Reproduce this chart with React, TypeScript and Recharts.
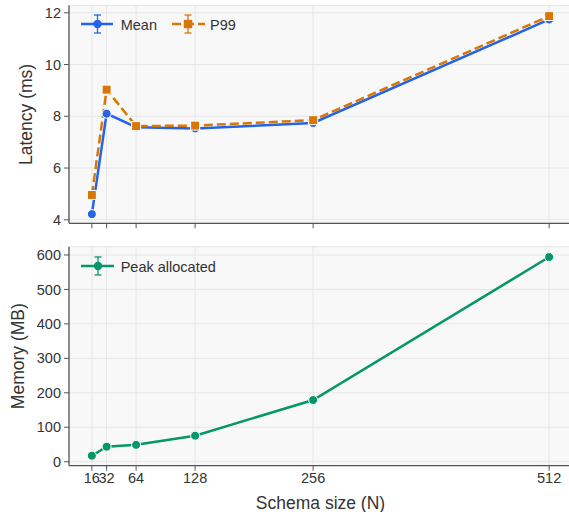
import React from 'react';
import { LineChart, Line, XAxis, YAxis, CartesianGrid, Legend, Label } from 'recharts';

const schemaSizes = [16, 32, 64, 128, 256, 512];
const meanLatency = [4.22, 8.1, 7.58, 7.53, 7.74, 11.74];
const p99Latency = [4.96, 9.03, 7.62, 7.64, 7.85, 11.87];
const peakMemory = [17.4, 43.5, 49, 75.5, 179, 594];
const latencyTicks = [4, 6, 8, 10, 12];
const memoryTicks = [0, 100, 200, 300, 400, 500, 600];

const BLUE = '#2563eb';
const ORANGE = '#d97706';
const GREEN = '#059669';
const FONT = '"Liberation Sans", Arial, sans-serif';
const TEXT = '#333333';
const SPINE = '#555555';

const latencyData = schemaSizes.map((n, i) => ({ n, mean: meanLatency[i], p99: p99Latency[i] }));
const memoryData = schemaSizes.map((n, i) => ({ n, peak: peakMemory[i] }));

const X_DOMAIN: [number, number] = [-8.8, 536.8];

const CircleDot = (color: string) => (props: any) => {
  const { cx, cy, index } = props;
  if (cx == null || cy == null) return <g key={index} />;
  return <circle key={index} cx={cx} cy={cy} r={4.5} fill={color} stroke="#ffffff" strokeWidth={1} />;
};

const SquareDot = (color: string) => (props: any) => {
  const { cx, cy, index } = props;
  if (cx == null || cy == null) return <g key={index} />;
  return <rect key={index} x={cx - 4.5} y={cy - 4.5} width={9} height={9} fill={color} stroke="#ffffff" strokeWidth={1} />;
};

const ErrIcon = ({ x1, x2, mx, color, dash, square }: any) => (
  <g>
    <line x1={x1} x2={x2} y1={11} y2={11} stroke={color} strokeWidth={2.5} strokeDasharray={dash} />
    <line x1={mx} x2={mx} y1={2} y2={20} stroke={color} strokeWidth={1.3} />
    <line x1={mx - 3.5} x2={mx + 3.5} y1={2} y2={2} stroke={color} strokeWidth={1.3} />
    <line x1={mx - 3.5} x2={mx + 3.5} y1={20} y2={20} stroke={color} strokeWidth={1.3} />
    {square ? (
      <rect x={mx - 4.2} y={11 - 4.2} width={8.4} height={8.4} fill={color} />
    ) : (
      <circle cx={mx} cy={11} r={4.2} fill={color} />
    )}
  </g>
);

const LatencyLegend = () => (
  <svg width={170} height={24} style={{ display: 'block', overflow: 'visible' }}>
    <ErrIcon x1={3} x2={35} mx={19.5} color={BLUE} />
    <text x={42.7} y={16.5} fontSize={14.5} fontFamily={FONT} fill={TEXT}>Mean</text>
    <ErrIcon x1={94} x2={127} mx={110} color={ORANGE} dash="9 4" square />
    <text x={132} y={16.5} fontSize={14.5} fontFamily={FONT} fill={TEXT}>P99</text>
  </svg>
);

const MemoryLegend = () => (
  <svg width={170} height={24} style={{ display: 'block', overflow: 'visible' }}>
    <ErrIcon x1={3} x2={36} mx={20} color={GREEN} />
    <text x={42.7} y={16.5} fontSize={14.5} fontFamily={FONT} fill={TEXT}>Peak allocated</text>
  </svg>
);

const tickStyle = { fontSize: 14.5, fontFamily: FONT, fill: TEXT };

export default function App() {
  return (
    <div style={{ position: 'absolute', left: 0, top: 0, width: 569, height: 512, overflow: 'hidden', background: '#ffffff' }}>
      <LineChart width={572} height={240} data={latencyData} margin={{ top: 5.5, right: 0, left: 0, bottom: 0 }}>
        <CartesianGrid stroke="#e6e6e6" strokeWidth={1} fill="#f8f8f8" fillOpacity={1} />
        <XAxis
          dataKey="n"
          type="number"
          domain={X_DOMAIN}
          ticks={schemaSizes}
          interval={0}
          allowDataOverflow
          height={16.7}
          tickFormatter={() => ''}
          tickSize={5}
          axisLine={{ stroke: SPINE, strokeWidth: 1.3 }}
          tickLine={{ stroke: SPINE, strokeWidth: 1 }}
        />
        <YAxis
          type="number"
          domain={[3.865, 12.28]}
          ticks={latencyTicks}
          allowDataOverflow
          width={69}
          tickSize={5}
          tickMargin={3}
          tick={tickStyle}
          axisLine={{ stroke: SPINE, strokeWidth: 1.3 }}
          tickLine={{ stroke: SPINE, strokeWidth: 1 }}
        >
          <Label value="Latency (ms)" angle={-90} position="center" dx={-8.5} style={{ fontSize: 17.5, fontFamily: FONT, fill: TEXT }} />
        </YAxis>
        <Legend
          layout="vertical"
          align="center"
          verticalAlign="middle"
          content={() => <LatencyLegend />}
          wrapperStyle={{ top: 13, left: 78, width: 170, height: 24 }}
        />
        <Line
          dataKey="mean"
          name="Mean"
          stroke={BLUE}
          strokeWidth={2.5}
          dot={CircleDot(BLUE)}
          activeDot={false}
          isAnimationActive={false}
        />
        <Line
          dataKey="p99"
          name="P99"
          stroke={ORANGE}
          strokeWidth={2.5}
          strokeDasharray="9 4"
          dot={SquareDot(ORANGE)}
          activeDot={false}
          isAnimationActive={false}
        />
      </LineChart>
      <LineChart width={572} height={272} data={memoryData} margin={{ top: 6.7, right: 0, left: 0, bottom: 0 }}>
        <CartesianGrid stroke="#e6e6e6" strokeWidth={1} fill="#f8f8f8" fillOpacity={1} />
        <XAxis
          dataKey="n"
          type="number"
          domain={X_DOMAIN}
          ticks={schemaSizes}
          interval={0}
          allowDataOverflow
          height={46.3}
          tickSize={5}
          tickMargin={2.5}
          tick={tickStyle}
          axisLine={{ stroke: SPINE, strokeWidth: 1.3 }}
          tickLine={{ stroke: SPINE, strokeWidth: 1 }}
        >
          <Label value="Schema size (N)" position="insideBottom" offset={3} style={{ fontSize: 17.5, fontFamily: FONT, fill: TEXT }} />
        </XAxis>
        <YAxis
          type="number"
          domain={[-11.6, 624]}
          ticks={memoryTicks}
          allowDataOverflow
          width={69}
          tickSize={5}
          tickMargin={3}
          tick={tickStyle}
          axisLine={{ stroke: SPINE, strokeWidth: 1.3 }}
          tickLine={{ stroke: SPINE, strokeWidth: 1 }}
        >
          <Label value="Memory (MB)" angle={-90} position="center" dx={-16.5} style={{ fontSize: 17.5, fontFamily: FONT, fill: TEXT }} />
        </YAxis>
        <Legend
          layout="vertical"
          align="center"
          verticalAlign="middle"
          content={() => <MemoryLegend />}
          wrapperStyle={{ top: 14.7, left: 78, width: 170, height: 24 }}
        />
        <Line
          dataKey="peak"
          name="Peak allocated"
          stroke={GREEN}
          strokeWidth={2.5}
          dot={CircleDot(GREEN)}
          activeDot={false}
          isAnimationActive={false}
        />
      </LineChart>
    </div>
  );
}
